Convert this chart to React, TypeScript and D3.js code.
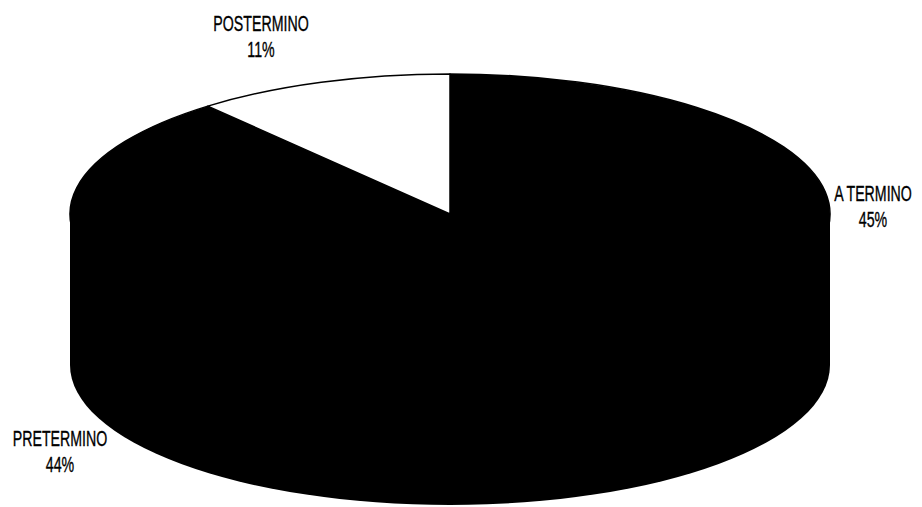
import React from "react";
import * as d3 from "d3";

const categories = ["A TERMINO", "PRETERMINO", "POSTERMINO"];
const values = [45, 44, 11];
const percentLabels = ["45%", "44%", "11%"];
const sliceColors = ["#000000", "#000000", "#ffffff"];

const W = 922;
const H = 507;
const cx = 450;
const cy = 214;
const rx = 380;
const ry = 140;
const depth = 151;

// label anchor positions (center x, baseline y of first line)
const labelAnchors: Record<string, [number, number]> = {
  "A TERMINO": [873, 201],
  PRETERMINO: [60, 446],
  POSTERMINO: [261, 31],
};

function pt(a: number, dy = 0): [number, number] {
  return [cx + rx * Math.sin(a), cy + dy - ry * Math.cos(a)];
}

export default function App() {
  const pie = d3.pie<number>().sort(null).value((d) => d);
  const arcs = pie(values);

  const slicePath = (a0: number, a1: number) => {
    const p0 = pt(a0);
    const p1 = pt(a1);
    const large = a1 - a0 > Math.PI ? 1 : 0;
    return `M${cx},${cy}L${p0[0]},${p0[1]}A${rx},${ry} 0 ${large} 1 ${p1[0]},${p1[1]}Z`;
  };

  // side body: rectangle from top-ellipse centre line to bottom-ellipse centre line plus bottom half
  const side = `M${cx - rx},${cy}L${cx + rx},${cy}L${cx + rx},${cy + depth}A${rx},${ry} 0 0 1 ${cx - rx},${cy + depth}Z`;

  const font = "'Liberation Sans', Arial, sans-serif";
  const sx = 0.66;

  return (
    <svg
      width={W}
      height={H}
      style={{ position: "absolute", left: 0, top: 0, display: "block", background: "#fff" }}
    >
      <path d={side} fill="#000" />
      {arcs.map((a, i) => (
        <path
          key={categories[i]}
          d={slicePath(a.startAngle, a.endAngle)}
          fill={sliceColors[i]}
          stroke="#000"
          strokeWidth={1.5}
          strokeLinejoin="round"
        />
      ))}
      {categories.map((c, i) => {
        const [x, y] = labelAnchors[c];
        return (
          <g key={c} transform={`translate(${x},${y}) scale(${sx},1)`}>
            <text
              textAnchor="middle"
              fontFamily={font}
              fontSize={21.5}
              fill="#000"
              stroke="#000"
              strokeWidth={0.35}
            >
              <tspan x={0} y={0}>{c}</tspan>
              <tspan x={0} y={26}>{percentLabels[i]}</tspan>
            </text>
          </g>
        );
      })}
    </svg>
  );
}
